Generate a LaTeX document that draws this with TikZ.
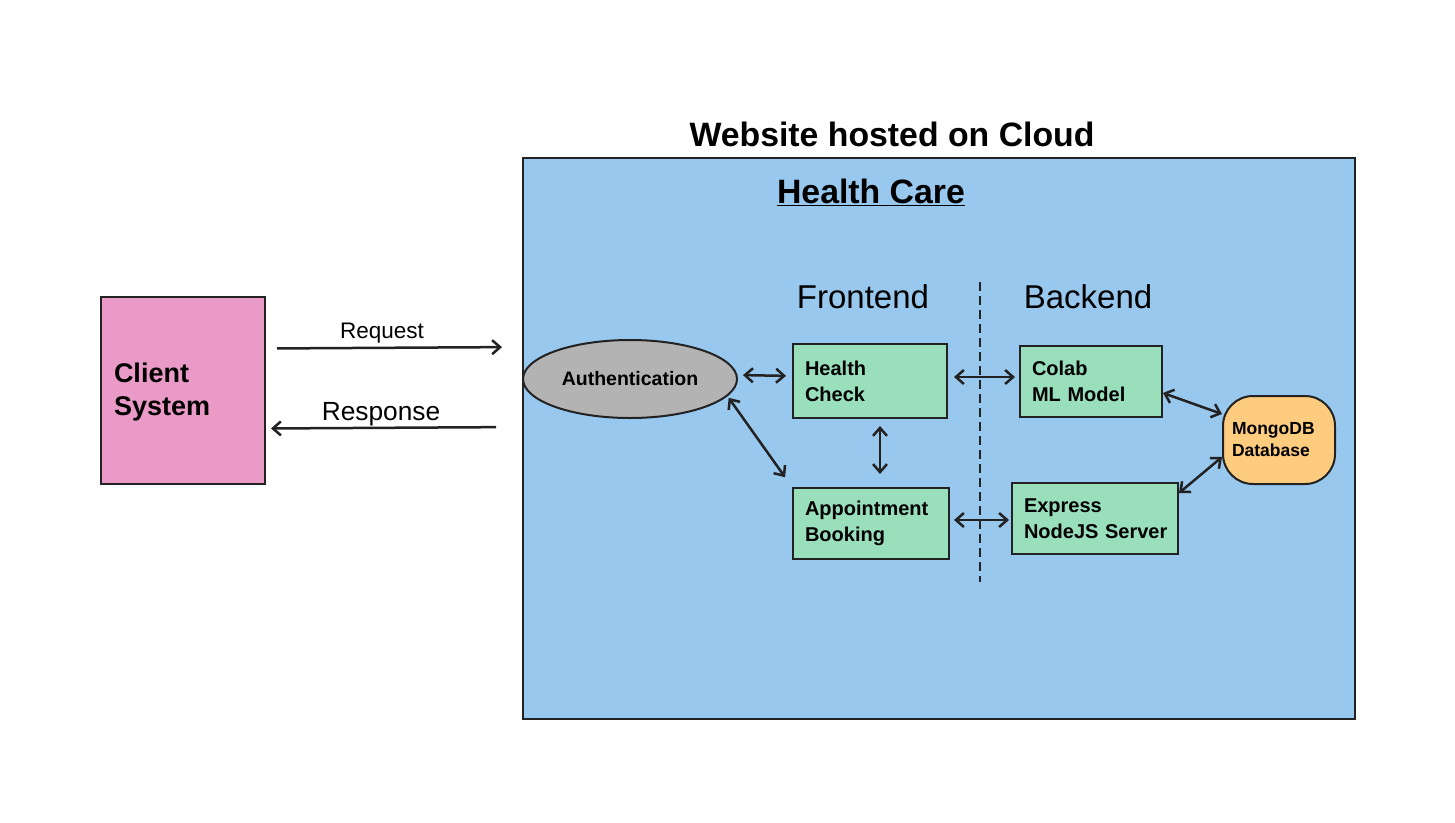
\documentclass[tikz,border=0pt]{standalone}
\usepackage{fontspec}
\setmainfont{Liberation Sans}
\usetikzlibrary{arrows.meta,positioning,calc,shapes.geometric}
\definecolor{hcInk}{RGB}{34,34,34}
\definecolor{hcSky}{RGB}{153,200,238}
\definecolor{hcMint}{RGB}{154,223,187}
\definecolor{hcRose}{RGB}{234,154,198}
\definecolor{hcGray}{RGB}{179,179,179}
\definecolor{hcPeach}{RGB}{253,204,126}

\begin{document}
\begin{tikzpicture}[x=1pt,y=-1pt]
\tikzset{
blk/.style={draw=hcInk,line width=2pt,align=left,inner ysep=0pt,text=black,
font=\bfseries\fontsize{20}{26}\selectfont},
svc/.style 2 args={blk,fill=hcMint,inner xsep=12pt,text width=#1,minimum height=#2},
head/.style={font=\bfseries\fontsize{33.8}{40}\selectfont,text=black},
side/.style={font=\fontsize{33}{40}\selectfont,text=black},
duplex/.style={draw=hcInk,line width=2.5pt,{Straight Barb[length=8pt,width=14pt]}-{Straight Barb[length=8pt,width=14pt]}},
simplex/.style={draw=hcInk,line width=2.5pt,-{Straight Barb[length=8pt,width=14pt]}}
}
\useasboundingbox (0,0) rectangle (1455,822);
\node[draw=hcInk,line width=2pt,fill=hcSky,minimum width=832pt,minimum height=561pt,inner sep=0pt] (cloud) at (939,438.5) {};
\node[head] (title) at (892,134) {Website hosted on Cloud};
\node[head] (care) at (871,192) {\underline{Health Care}};
\node[side] (front) at (863,297) {Frontend};
\node[side] (back) at (1088,297) {Backend};
\coordinate (dtop) at (980,282);
\coordinate (dbot) at (980,582);
\draw[draw=hcInk,line width=2pt,dash pattern=on 9pt off 5pt] (dtop) -- (dbot);

\node[blk,fill=hcRose,inner xsep=13pt,text width=138pt,minimum height=187pt,
font=\bfseries\fontsize{27}{33}\selectfont] (client) at (183,390.5) {\strut Client\\System};
\node[font=\fontsize{22.5}{26}\selectfont] (req) at (382,333) {Request};
\node[font=\fontsize{26.3}{30}\selectfont] (resp) at (381,414) {Response};

\node[draw=hcInk,line width=2pt,fill=hcGray,ellipse,minimum width=214pt,minimum height=78pt,inner sep=0pt,
font=\bfseries\fontsize{19.5}{24}\selectfont] (auth) at (630,379) {Authentication};
\node[svc={130pt}{74pt}] (hc) at (870,381) {Health\\Check};
\node[svc={132pt}{71pt}] (ab) at (871,523.5) {Appointment\\Booking};
\node[svc={118pt}{71pt}] (colab) at (1091,381.5) {Colab\\ML Model};
\node[svc={142pt}{71pt}] (expr) at (1095,518.5) {Express\\\mbox{NodeJS Server}};
\node[blk,fill=hcPeach,rounded corners=30pt,inner xsep=9pt,text width=94pt,minimum height=88pt,
font=\bfseries\fontsize{17.5}{22}\selectfont] (mongo) at (1279,440) {MongoDB\\Database};

\draw[simplex,shorten <=11pt,shorten >=20pt] ([yshift=42pt]client.east) -- ([yshift=91.5pt]cloud.west);
\draw[simplex,shorten <=26pt,shorten >=5pt] ([yshift=11.5pt]cloud.west) -- ([yshift=-38pt]client.east);
\draw[duplex,shorten <=5pt,shorten >=6pt] ([yshift=4pt]auth.east) -- ([yshift=5pt]hc.west);
\draw[duplex,shorten <=6pt,shorten >=4pt] ([yshift=4pt]hc.east) -- ([yshift=4.5pt]colab.west);
\draw[duplex,shorten <=7pt,shorten >=13pt] ([xshift=10pt]hc.south) -- ([xshift=9pt]ab.north);
\draw[duplex,shorten <=2pt,shorten >=12pt] (auth.-10.5) -- (ab.north west);
\draw[duplex,shorten <=4pt,shorten >=2pt] ([yshift=3.5pt]ab.east) -- ([yshift=-1.5pt]expr.west);
\draw[duplex] ([yshift=-11.5pt]colab.east) -- ([yshift=26pt]mongo.west);
\draw[duplex] ([yshift=25.5pt]expr.east) -- ([yshift=-17pt]mongo.west);
\end{tikzpicture}
\end{document}
